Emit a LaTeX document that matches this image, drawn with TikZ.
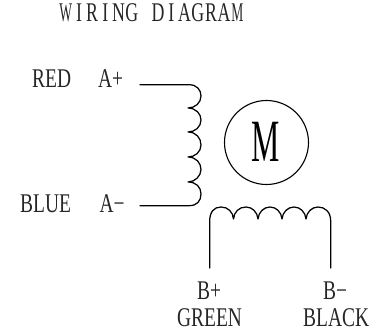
\documentclass[tikz,border=0pt]{standalone}
\usepackage{fontspec}
\setmainfont[FakeStretch=0.72]{Liberation Serif}
\newfontfamily\wideletter[FakeStretch=0.66]{Liberation Serif}
\newfontfamily\narrowletter[FakeStretch=0.5]{Liberation Serif}
\newfontfamily\motorletter[FakeStretch=0.53]{Liberation Serif}
\newcommand{\cellA}[1]{\makebox[13.2pt][c]{\wideletter #1}}
\newcommand{\cellB}[1]{\makebox[13.2pt][c]{\narrowletter #1}}
\tikzset{
  lbl/.style={inner sep=0pt,font=\fontsize{27}{27}\selectfont,text=black!85},
  wire/.style={draw=black,line width=1.25pt,line cap=round,line join=round}
}
\begin{document}
\begin{tikzpicture}[x=1pt,y=-1pt]
\useasboundingbox (0,0) rectangle (381,334);
\node[lbl,anchor=base west] (title) at (59,22) {\cellB{W}\cellA{I}\cellA{R}\cellA{I}\cellA{N}\cellA{G}\cellA{\ }\cellA{D}\cellA{I}\cellA{A}\cellA{G}\cellA{R}\cellA{A}\cellB{M}};
\node[lbl,anchor=base west] (red) at (32,88) {RED};
\node[lbl,anchor=base west] (ap) at (98,88) {A+};
\node[lbl,anchor=base west] (blue) at (20,212.5) {BLUE};
\node[lbl,anchor=base west] (am) at (99.5,212.5) {A−};
\node[lbl,anchor=base west] (bp) at (197,300) {B+};
\node[lbl,anchor=base west] (bm) at (323,300) {B−};
\node[lbl,anchor=base west] (green) at (177,326.5) {GREEN};
\node[lbl,anchor=base west] (black) at (303,326.5) {BLACK};
\node[draw=black,line width=1.1pt,circle,minimum size=84pt,inner sep=0pt] (motor) at (266.5,142.5) {};
\node[inner sep=0pt,font=\fontsize{60}{60}\motorletter] (mlabel) at (266,142) {M};
\coordinate (a1) at (140,84.7);
\coordinate (a2) at (140,205.7);
\coordinate (b1) at (209.7,268);
\coordinate (b2) at (330.7,268);
\path[wire] (a1) -- (189,84.7)
  .. controls (197,84.7) and (201,90) .. (201,96)
  .. controls (201,103) and (195,108) .. (188,108)
  .. controls (196,108) and (201,114) .. (201,120)
  .. controls (201,127) and (195,132) .. (188,132)
  .. controls (196,132) and (201,138) .. (201,145)
  .. controls (201,152) and (195,157) .. (188,157)
  .. controls (196,157) and (201,163) .. (201,169.5)
  .. controls (201,176) and (195,182) .. (188,182)
  .. controls (196,182) and (201,187) .. (201,194)
  .. controls (201,201) and (197,205.7) .. (189,205.7)
  -- (a2);
\path[wire] (b1) -- (209.7,221)
  .. controls (209.7,212) and (214,207) .. (221,207)
  .. controls (228,207) and (233,212) .. (233.5,219)
  .. controls (234,212) and (239,207) .. (246,207)
  .. controls (252,207) and (257.5,212) .. (258,219)
  .. controls (258.5,212) and (264,207) .. (270,207)
  .. controls (276,207) and (281.5,212) .. (282,219)
  .. controls (282.5,212) and (288,207) .. (294,207)
  .. controls (300,207) and (305.5,212) .. (306,219)
  .. controls (306.5,212) and (312,207) .. (318,207)
  .. controls (325,207) and (330.7,212) .. (330.7,221)
  -- (b2);
\end{tikzpicture}
\end{document}
